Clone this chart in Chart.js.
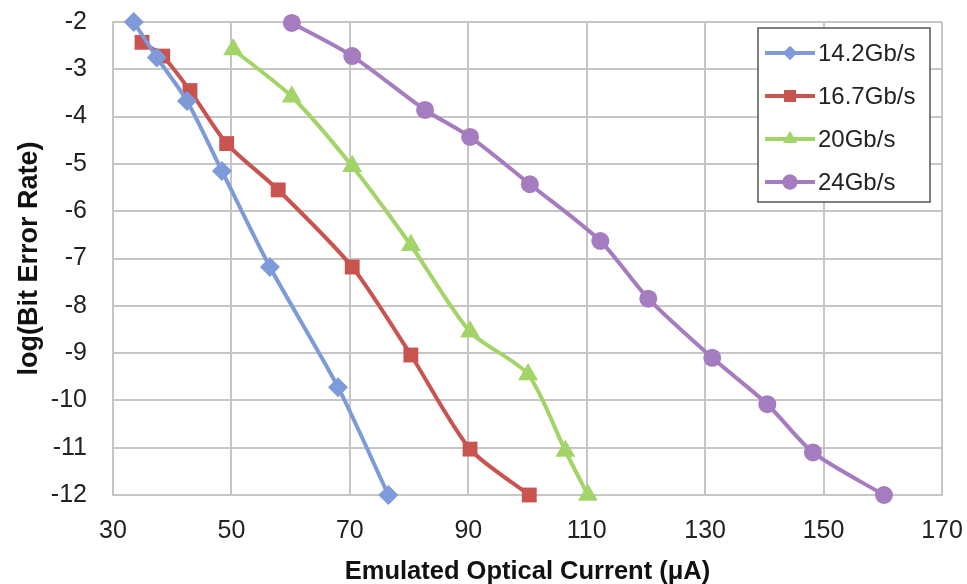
<!DOCTYPE html>
<html><head><meta charset="utf-8">
<script src="https://cdn.jsdelivr.net/npm/chart.js@4/dist/chart.umd.min.js"></script>
<style>html,body{margin:0;padding:0;background:#fff}#wrap{width:967px;height:584px}</style>
</head><body><div id="wrap"><canvas id="c" width="967" height="584"></canvas></div>
<script>
const seriesLabels = ["14.2Gb/s","16.7Gb/s","20Gb/s","24Gb/s"];
const x142 = [33.5, 37.4, 42.5, 48.4, 56.5, 68.0, 76.5];
const y142 = [-2.0, -2.75, -3.67, -5.15, -7.18, -9.72, -12.0];
const x167 = [34.9, 38.4, 43.0, 49.2, 57.9, 70.4, 80.3, 90.3, 100.3];
const y167 = [-2.43, -2.72, -3.45, -4.57, -5.55, -7.18, -9.04, -11.03, -12.0];
const x20 = [50.3, 60.2, 70.4, 80.3, 90.3, 100.1, 106.4, 110.2];
const y20 = [-2.58, -3.58, -5.05, -6.72, -8.55, -9.45, -11.07, -12.0];
const x24 = [60.2, 70.4, 82.7, 90.3, 100.4, 112.3, 120.4, 131.2, 140.5, 148.2, 160.2];
const y24 = [-2.02, -2.72, -3.86, -4.43, -5.43, -6.63, -7.85, -9.1, -10.08, -11.1, -12.0];
const xTicks = [30, 50, 70, 90, 110, 130, 150, 170];
const yTicks = [-2, -3, -4, -5, -6, -7, -8, -9, -10, -11, -12];

const colors = ["#7E9AD8", "#C9534F", "#A3D468", "#A67CC0"];
const shapes = ["rectRot", "rect", "triangle", "circle"];
const radii = [10, 10.5, 11.5, 9];
const legendRadii = [7, 8.5, 8, 7.5];
const xs = [x142, x167, x20, x24];
const ys = [y142, y167, y20, y24];

const datasets = seriesLabels.map((lab, i) => ({
  label: lab,
  data: xs[i].map((x, j) => ({x: x, y: ys[i][j]})),
  borderColor: colors[i],
  backgroundColor: colors[i],
  pointStyle: shapes[i],
  pointRadius: radii[i],
  pointHoverRadius: radii[i],
  pointBorderWidth: 0,
  borderWidth: 4,
  tension: 0.25,
  clip: false,
  showLine: true
}));

const legendPlugin = {
  id: 'boxLegend',
  afterDraw(chart) {
    const ctx = chart.ctx;
    const bx = 758, by = 28, bw = 172, bh = 174;
    ctx.save();
    ctx.fillStyle = '#fff';
    ctx.fillRect(bx, by, bw, bh);
    ctx.strokeStyle = '#555';
    ctx.lineWidth = 1.5;
    ctx.strokeRect(bx, by, bw, bh);
    chart.data.datasets.forEach((ds, i) => {
      const cy = by + 25 + i * 43;
      ctx.strokeStyle = ds.borderColor;
      ctx.lineWidth = 4;
      ctx.beginPath(); ctx.moveTo(765, cy); ctx.lineTo(815, cy); ctx.stroke();
      ctx.fillStyle = ds.backgroundColor;
      Chart.helpers.drawPoint(ctx, {pointStyle: ds.pointStyle, radius: legendRadii[i], borderWidth: 0}, 790, cy);
      ctx.fill();
      ctx.fillStyle = '#222';
      ctx.font = '24px "Liberation Sans", Arial, sans-serif';
      ctx.textBaseline = 'middle';
      ctx.textAlign = 'left';
      ctx.fillText(ds.label, 818, cy + 1);
    });
    ctx.restore();
  }
};

const tickFont = { family: '"Liberation Sans", Arial, sans-serif', size: 25 };

new Chart(document.getElementById('c'), {
  type: 'scatter',
  data: { datasets },
  plugins: [legendPlugin],
  options: {
    responsive: false,
    animation: false,
    layout: { padding: { top: 22, right: 25, left: 0, bottom: 0 } },
    plugins: { legend: { display: false }, tooltip: { enabled: false } },
    scales: {
      x: {
        type: 'linear', min: 30, max: 170,
        afterBuildTicks: s => { s.ticks = xTicks.map(v => ({value: v})); },
        afterFit: s => { s.height = 89; s.paddingLeft = 0; s.paddingRight = 0; },
        grid: { color: '#C6C6C6', lineWidth: 2, drawTicks: false },
        border: { color: '#C6C6C6', width: 2 },
        ticks: { padding: 21, color: '#222', font: tickFont, maxRotation: 0 },
        title: { display: true, text: 'Emulated Optical Current (μA)', color: '#111', padding: { top: 0, bottom: -3 },
                 font: { family: '"Liberation Sans", Arial, sans-serif', size: 25.5, weight: 'bold' } }
      },
      y: {
        type: 'linear', min: -12, max: -2,
        afterBuildTicks: s => { s.ticks = yTicks.map(v => ({value: v})); },
        afterFit: s => { s.width = 113; s.paddingTop = 0; s.paddingBottom = 0; },
        grid: { color: '#C6C6C6', lineWidth: 2, drawTicks: false },
        border: { color: '#C6C6C6', width: 2 },
        ticks: { padding: 26, color: '#222', font: tickFont },
        title: { display: true, text: 'log(Bit Error Rate)', color: '#111', padding: { top: 13, bottom: 0 },
                 font: { family: '"Liberation Sans", Arial, sans-serif', size: 27, weight: 'bold' } }
      }
    }
  }
});
</script></body></html>
